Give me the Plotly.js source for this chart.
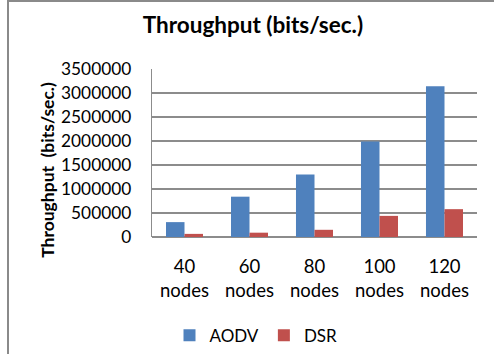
<!DOCTYPE html>
<html>
<head>
<meta charset="utf-8">
<script src="https://cdn.plot.ly/plotly-3.0.1.min.js"></script>
<style>
  html, body { margin: 0; padding: 0; background: #fff; }
  #chart { position: absolute; left: 0; top: 0; width: 494px; height: 354px; }
  #frame { position: absolute; left: 7px; top: 0; width: 487px; height: 354px;
           border-left: 2px solid #8a8a8a; border-top: 2px solid #8a8a8a;
           box-sizing: border-box; pointer-events: none; }
</style>
</head>
<body>
<div id="chart"></div>
<div id="frame"></div>
<script>
const categories = ["40<br>nodes", "60<br>nodes", "80<br>nodes", "100<br>nodes", "120<br>nodes"];
const aodv = [310000, 840000, 1300000, 1990000, 3140000];
const dsr = [65000, 90000, 150000, 440000, 580000];
const tickVals = [0, 500000, 1000000, 1500000, 2000000, 2500000, 3000000, 3500000];
const tickText = ["0", "500000", "1000000", "1500000", "2000000", "2500000", "3000000", "3500000"];

const FONT = "Lato, 'Open Sans', sans-serif";

const traces = [
  { type: "bar", name: "AODV", x: categories, y: aodv, marker: { color: "#4F81BD" } },
  { type: "bar", name: "DSR", x: categories, y: dsr, marker: { color: "#C0504D" } }
];

const layout = {
  width: 494, height: 354,
  margin: { l: 152, r: 17, t: 69, b: 117, autoexpand: false },
  paper_bgcolor: "#fff", plot_bgcolor: "#fff",
  barmode: "group", bargap: 0.43, bargroupgap: 0,
  font: { family: FONT, size: 17, color: "#000" },
  title: { text: "<b>Throughput (bits/sec.)</b>", font: { family: FONT, size: 22.5, color: "#000" },
           x: 0.512, xanchor: "center", y: 0.929, yanchor: "middle", yref: "container" },
  xaxis: { type: "category", showgrid: false, zeroline: false, showline: false, ticks: "",
           tickfont: { family: FONT, size: 18.5, color: "#000" }, ticklabelstandoff: 16, fixedrange: true },
  yaxis: { range: [0, 3500000], tickvals: tickVals, ticktext: tickText,
           showgrid: true, gridcolor: "#8c8c8c", gridwidth: 1.3,
           zeroline: true, zerolinecolor: "#8c8c8c", zerolinewidth: 1.3,
           showline: true, linecolor: "#8c8c8c", linewidth: 1.3, ticks: "",
           tickfont: { family: FONT, size: 17.3, color: "#000" }, ticklabelstandoff: 16 },
  showlegend: true,
  legend: { orientation: "h", x: 0.32, xanchor: "center", yref: "container", y: 0.052, yanchor: "middle",
            font: { family: FONT, size: 17, color: "#000" }, itemwidth: 30, traceorder: "normal" },
  annotations: [{
    text: "<b>Throughput  (bits/sec.)</b>", textangle: -90, showarrow: false,
    xref: "paper", yref: "paper", x: -0.32, y: 0.40, xanchor: "center", yanchor: "middle",
    font: { family: FONT, size: 17.5, color: "#000" }
  }]
};

Plotly.newPlot("chart", traces, layout, { displayModeBar: false, staticPlot: true });
</script>
</body>
</html>
